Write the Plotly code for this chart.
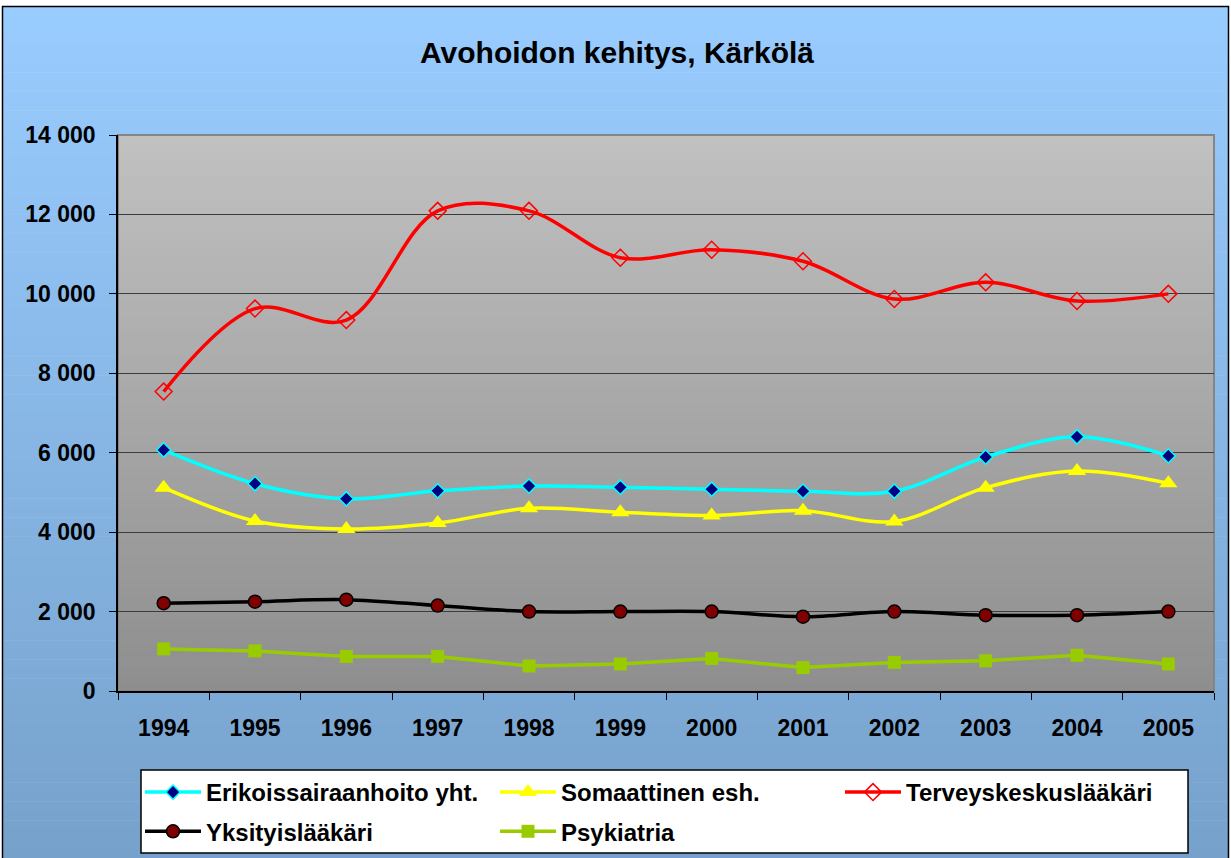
import plotly.graph_objects as go

# ---------------- data ----------------
years = ["1994", "1995", "1996", "1997", "1998", "1999",
         "2000", "2001", "2002", "2003", "2004", "2005"]
erikoissairaanhoito = [6070, 5220, 4840, 5040, 5160, 5130, 5080, 5030, 5030, 5890, 6400, 5920]
somaattinen = [5120, 4280, 4080, 4230, 4600, 4500, 4420, 4540, 4270, 5120, 5540, 5230]
terveyskeskus = [7540, 9630, 9340, 12090, 12090, 10910, 11110, 10820, 9870, 10290, 9820, 10000]
yksityis = [2210, 2250, 2300, 2150, 2000, 2000, 2000, 1870, 2000, 1910, 1910, 2000]
psykiatria = [1060, 1010, 870, 870, 630, 680, 820, 590, 720, 760, 900, 680]

y_ticks = [0, 2000, 4000, 6000, 8000, 10000, 12000, 14000]
y_tick_labels = ["0", "2 000", "4 000", "6 000", "8 000", "10 000", "12 000", "14 000"]

title_text = "Avohoidon kehitys, Kärkölä"

# ---------------- geometry ----------------
W, H = 1231, 858
L, R, T, B = 118, 17, 135, 167
PW, PH = W - L - R, H - T - B

def px_x(x):
    return (x - L) / PW

def px_y(y):
    return (H - B - y) / PH

FONT = "Liberation Sans"

fig = go.Figure()

fig.add_trace(go.Scatter(
    x=years, y=erikoissairaanhoito, name="Erikoissairaanhoito yht.",
    mode="lines+markers", line=dict(color="#00FFFF", width=3.5, shape="spline", smoothing=1.0),
    marker=dict(symbol="diamond", size=11, color="#000080", line=dict(color="#00FFFF", width=1.5)),
    legend="legend", legendgroup="g1"))
fig.add_trace(go.Scatter(
    x=years, y=yksityis, name="Yksityislääkäri",
    mode="lines+markers", line=dict(color="#000000", width=3.5, shape="spline", smoothing=1.0),
    marker=dict(symbol="circle", size=13, color="#800000", line=dict(color="#000000", width=1.5)),
    legend="legend", legendgroup="g4"))
fig.add_trace(go.Scatter(
    x=years, y=somaattinen, name="Somaattinen esh.",
    mode="lines+markers", line=dict(color="#FFFF00", width=3.5, shape="spline", smoothing=1.0),
    marker=dict(symbol="triangle-up", size=16, color="#FFFF00"),
    legend="legend2", legendgroup="g2"))
fig.add_trace(go.Scatter(
    x=years, y=psykiatria, name="Psykiatria",
    mode="lines+markers", line=dict(color="#99CC00", width=3.5),
    marker=dict(symbol="square", size=13, color="#99CC00"),
    legend="legend2", legendgroup="g5"))
fig.add_trace(go.Scatter(
    x=years, y=terveyskeskus, name="Terveyskeskuslääkäri",
    mode="lines+markers", line=dict(color="#FF0000", width=3.5, shape="spline", smoothing=1.0),
    marker=dict(symbol="diamond-open", size=13, color="#FF0000", line=dict(width=1.5)),
    legend="legend3", legendgroup="g3"))

shapes = []
# outer blue gradient
top_c = (153, 204, 255)
bot_c = (118, 161, 203)
y0px, y1px = 6, H
n = 90
for i in range(n):
    a = y0px + (y1px - y0px) * i / n
    b = y0px + (y1px - y0px) * (i + 1) / n
    f = (i + 0.5) / n
    c = tuple(round(top_c[k] + (bot_c[k] - top_c[k]) * f) for k in range(3))
    shapes.append(dict(type="rect", xref="paper", yref="paper", layer="below",
                       x0=px_x(2), x1=px_x(W - 2), y0=px_y(b + 0.6), y1=px_y(a),
                       fillcolor="rgb(%d,%d,%d)" % c, line=dict(width=0)))
shapes.append(dict(type="rect", xref="paper", yref="paper", layer="below",
                   x0=px_x(2.5), x1=px_x(W - 2.5), y0=px_y(H + 2), y1=px_y(6.5),
                   fillcolor="rgba(0,0,0,0)", line=dict(color="black", width=1.5)))
# plot area grey gradient
ptop = (193, 193, 193)
pbot = (142, 142, 142)
n2 = 70
for i in range(n2):
    a = T + PH * i / n2
    b = T + PH * (i + 1) / n2
    f = (i + 0.5) / n2
    c = tuple(round(ptop[k] + (pbot[k] - ptop[k]) * f) for k in range(3))
    shapes.append(dict(type="rect", xref="paper", yref="paper", layer="below",
                       x0=0, x1=1, y0=px_y(min(b + 0.6, T + PH)), y1=px_y(a),
                       fillcolor="rgb(%d,%d,%d)" % c, line=dict(width=0)))
shapes.append(dict(type="rect", xref="paper", yref="paper", layer="below",
                   x0=0, x1=1, y0=0, y1=1,
                   fillcolor="rgba(0,0,0,0)", line=dict(color="#858585", width=2)))
# legend box
shapes.append(dict(type="rect", xref="paper", yref="paper", layer="below",
                   x0=px_x(141), x1=px_x(1188), y0=px_y(853), y1=px_y(770),
                   fillcolor="white", line=dict(color="black", width=1.5)))

leg_common = dict(bgcolor="rgba(0,0,0,0)", borderwidth=0, xanchor="left", yanchor="top",
                  font=dict(family=FONT, size=24, color="black", weight="bold"),
                  itemwidth=56, tracegroupgap=5, traceorder="grouped", orientation="v")

fig.update_layout(
    width=W, height=H,
    margin=dict(l=L, r=R, t=T, b=B, pad=0, autoexpand=False),
    paper_bgcolor="white", plot_bgcolor="rgba(0,0,0,0)",
    title=dict(text=title_text, x=617 / W, xref="container", xanchor="center",
               y=1 - 52 / H, yref="container", yanchor="middle",
               font=dict(family=FONT, size=30, color="black", weight="bold")),
    shapes=shapes,
    legend=dict(x=px_x(140), y=px_y(770), **leg_common),
    legend2=dict(x=px_x(495), y=px_y(770), **leg_common),
    legend3=dict(x=px_x(840), y=px_y(770), **leg_common),
    showlegend=True,
)

fig.update_xaxes(type="category", categoryorder="array", categoryarray=years,
                 range=[-0.5, len(years) - 0.5],
                 showline=True, linecolor="black", linewidth=1.5,
                 ticks="outside", tickson="boundaries", ticklen=7, tickcolor="black", tickwidth=1,
                 showgrid=False, ticklabelstandoff=16,
                 tickfont=dict(family=FONT, size=23, color="black", weight="bold"))
fig.update_yaxes(range=[0, 14000], tickvals=y_ticks, ticktext=y_tick_labels,
                 showline=True, linecolor="black", linewidth=1.5,
                 ticks="outside", ticklen=7, tickcolor="black", tickwidth=1,
                 showgrid=True, gridcolor="#3c3c3c", gridwidth=1, zeroline=False,
                 ticklabelstandoff=9,
                 tickfont=dict(family=FONT, size=23, color="black", weight="bold"))

fig.write_html("out.html", config={"displayModeBar": False},
               post_script="document.body.style.margin='0';document.body.style.overflow='hidden';")
